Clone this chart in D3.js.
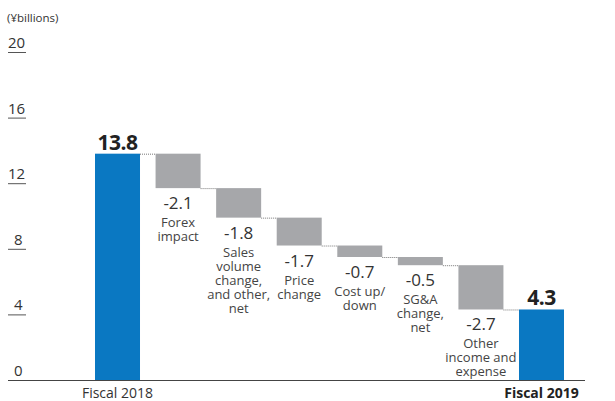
<!DOCTYPE html>
<html>
<head>
<meta charset="utf-8">
<script src="https://cdn.jsdelivr.net/npm/d3@7"></script>
<style>
  body { margin: 0; background: #fff; }
  svg text { font-family: "Open Sans", "Noto Sans", sans-serif; }
</style>
</head>
<body>
<div id="plot"></div>
<script>
// waterfall: fiscal 2018 -> fiscal 2019 (¥billions)
var steps = ['Fiscal 2018', 'Forex', 'Sales', 'Price', 'Cost', 'SGA', 'Other', 'Fiscal 2019'];
var stepValues = [13.8, -2.1, -1.8, -1.7, -0.7, -0.5, -2.7, 4.3];
var stepLabels = [
  [],
  ['Forex', 'impact'],
  ['Sales', 'volume', 'change,', 'and other,', 'net'],
  ['Price', 'change'],
  ['Cost up/', 'down'],
  ['SG&A', 'change,', 'net'],
  ['Other', 'income and', 'expense'],
  []
];
var yTicks = [0, 4, 8, 12, 16, 20];

var width = 615, height = 401;
var svg = d3.select('#plot').append('svg')
  .attr('width', width)
  .attr('height', height);

var x = d3.scaleBand()
  .domain(steps)
  .range([95, 564])
  .paddingInner(0.257)
  .paddingOuter(0);

var y = d3.scaleLinear()
  .domain([0, 20])
  .range([380, 52]);

// running totals
var bars = [];
var running = 0;
steps.forEach(function (s, i) {
  var v = stepValues[i];
  var total = (i === 0 || i === steps.length - 1);
  var start, end;
  if (total) { start = 0; end = v; running = v; }
  else { start = running; end = running + v; running = end; }
  bars.push({key: s, value: v, start: start, end: end, total: total, labels: stepLabels[i]});
});

// y tick labels with short underline
var ticks = svg.append('g');
yTicks.forEach(function (t) {
  if (t > 0) {
    ticks.append('line')
      .attr('x1', 8).attr('x2', 26)
      .attr('y1', y(t) + 0.5).attr('y2', y(t) + 0.5)
      .style('stroke', '#555')
      .style('stroke-width', 1);
  }
  ticks.append('text')
    .attr('x', t < 10 ? 14 : 8)
    .attr('y', y(t) - 4)
    .style('font-size', '15px')
    .style('fill', '#333')
    .text(t);
});

svg.append('text')
  .attr('x', 7).attr('y', 22)
  .style('font-size', '11.5px')
  .style('fill', '#333')
  .text('(¥billions)');

// dotted connectors
bars.forEach(function (d, i) {
  if (i === bars.length - 1) return;
  var next = bars[i + 1];
  svg.append('line')
    .attr('x1', x(d.key) + x.bandwidth())
    .attr('x2', x(next.key))
    .attr('y1', y(d.end) + 0.5)
    .attr('y2', y(d.end) + 0.5)
    .style('stroke', '#777')
    .style('stroke-width', 1)
    .style('stroke-dasharray', '1,1');
});

// bars
svg.selectAll('rect.bar')
  .data(bars)
  .enter()
  .append('rect')
  .attr('class', 'bar')
  .attr('x', function (d) { return x(d.key); })
  .attr('width', x.bandwidth())
  .attr('y', function (d) { return y(Math.max(d.start, d.end)); })
  .attr('height', function (d) { return Math.abs(y(d.start) - y(d.end)); })
  .style('fill', function (d) { return d.total ? '#0a78c2' : '#a6a7aa'; });

// value labels
bars.forEach(function (d) {
  var cx = x(d.key) + x.bandwidth() / 2;
  if (d.total) {
    svg.append('text')
      .attr('x', cx).attr('y', y(d.end) - 4)
      .attr('text-anchor', 'middle')
      .style('font-size', '21px')
      .style('font-weight', 'bold')
      .style('fill', '#222')
      .style('letter-spacing', '-0.5px')
      .text(d.value.toFixed(1));
  } else {
    var base = y(Math.min(d.start, d.end)) + 21;
    svg.append('text')
      .attr('x', cx).attr('y', base)
      .attr('text-anchor', 'middle')
      .style('font-size', '17px')
      .style('fill', '#333')
      .text(d.value.toFixed(1));
    d.labels.forEach(function (l, j) {
      svg.append('text')
        .attr('x', cx).attr('y', base + 18 + j * 14)
        .attr('text-anchor', 'middle')
        .style('font-size', '13px')
        .style('fill', '#444')
        .text(l);
    });
  }
});

// baseline
svg.append('line')
  .attr('x1', 8).attr('x2', 585)
  .attr('y1', y(0) + 0.5).attr('y2', y(0) + 0.5)
  .style('stroke', '#444')
  .style('stroke-width', 1);

// category axis labels
svg.append('text')
  .attr('x', x('Fiscal 2018') + x.bandwidth() / 2)
  .attr('y', 398)
  .attr('text-anchor', 'middle')
  .style('font-size', '14px')
  .style('fill', '#333')
  .text('Fiscal 2018');

svg.append('text')
  .attr('x', x('Fiscal 2019') + x.bandwidth() / 2)
  .attr('y', 398)
  .attr('text-anchor', 'middle')
  .style('font-size', '14px')
  .style('font-weight', 'bold')
  .style('fill', '#222')
  .text('Fiscal 2019');
</script>
</body>
</html>
